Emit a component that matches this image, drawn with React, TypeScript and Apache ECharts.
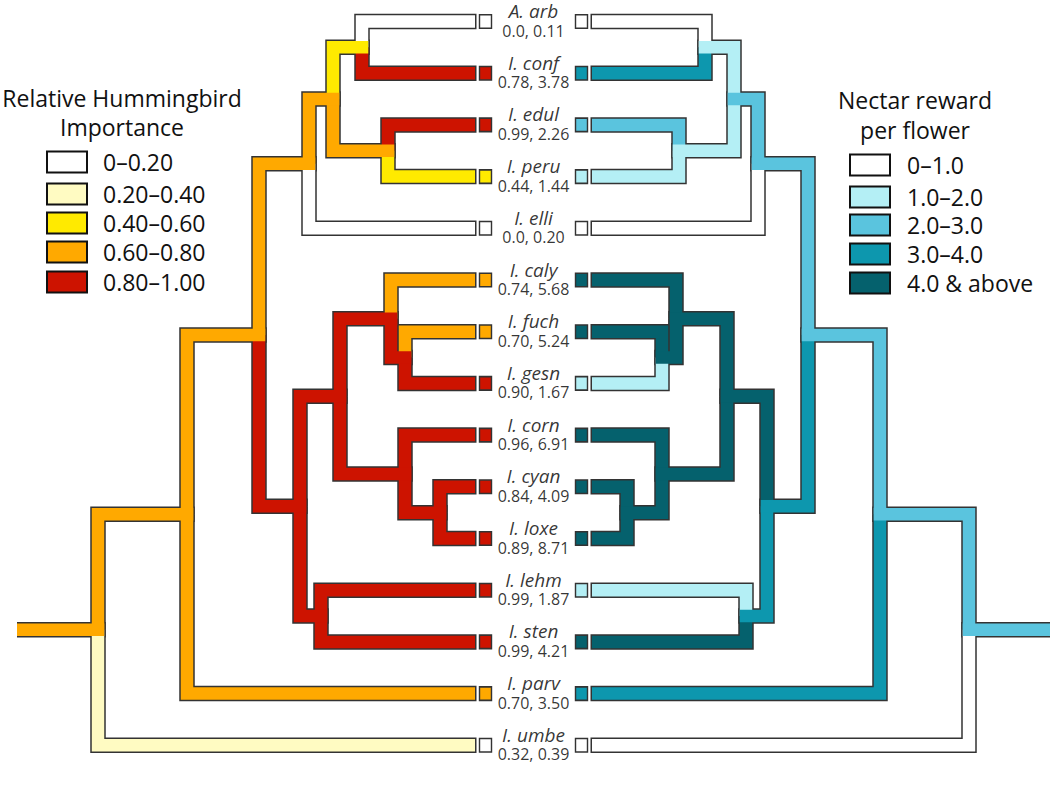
import React, { useEffect, useRef } from "react";
import * as echarts from "echarts";

// ---------------- data ----------------
const taxa = [
  "A. arb", "I. conf", "I. edul", "I. peru", "I. elli", "I. caly", "I. fuch", "I. gesn",
  "I. corn", "I. cyan", "I. loxe", "I. lehm", "I. sten", "I. parv", "I. umbe",
];
const hummingbirdImportance = [0.0, 0.78, 0.99, 0.44, 0.0, 0.74, 0.7, 0.9, 0.96, 0.84, 0.89, 0.99, 0.99, 0.7, 0.32];
const nectarReward = [0.11, 3.78, 2.26, 1.44, 0.2, 5.68, 5.24, 1.67, 6.91, 4.09, 8.71, 1.87, 4.21, 3.5, 0.39];

// internal nodes in post-order: id, children (upper, lower), node height (tips = 0)
const nodeIds = ["n13", "n12", "n11", "n3", "n9", "n7", "n10", "n8", "n6", "n5", "n4", "n2", "n1", "root"];
const nodeChildren = [
  ["A. arb", "I. conf"],
  ["I. edul", "I. peru"],
  ["n13", "n12"],
  ["n11", "I. elli"],
  ["I. fuch", "I. gesn"],
  ["I. caly", "n9"],
  ["I. cyan", "I. loxe"],
  ["I. corn", "n10"],
  ["n7", "n8"],
  ["I. lehm", "I. sten"],
  ["n6", "n5"],
  ["n3", "n4"],
  ["n2", "I. parv"],
  ["n1", "I. umbe"],
];
const nodeHeights = [1.13, 0.87, 1.42, 1.66, 0.7, 0.84, 0.35, 0.7, 1.35, 1.54, 1.75, 2.16, 2.88, 3.77];
const rootStubHeight = 4.58;

// reconstructed class of each branch (branch leading to tip / to node)
const hummingbirdTipBranchClass = [0, 4, 4, 2, 0, 3, 3, 4, 4, 4, 4, 4, 4, 3, 1];
const hummingbirdTipBoxClass = [0, 4, 4, 2, 0, 3, 3, 4, 4, 4, 4, 4, 4, 3, 0];
const hummingbirdNodeBranchClass = [2, 3, 3, 3, 4, 4, 4, 4, 4, 4, 4, 3, 3, 3];

const nectarTipBranchClass = [0, 3, 2, 1, 0, 4, 4, 1, 4, 4, 4, 1, 4, 3, 0];
const nectarTipBoxClass = [0, 3, 2, 1, 0, 4, 4, 1, 4, 4, 4, 1, 4, 3, 0];
const nectarNodeBranchClass = [1, 1, 2, 2, 4, 4, 4, 4, 4, 3, 3, 2, 2, 2];

const hummingbirdTitle = ["Relative Hummingbird", "Importance"];
const hummingbirdClassLabels = ["0–0.20", "0.20–0.40", "0.40–0.60", "0.60–0.80", "0.80–1.00"];
const nectarTitle = ["Nectar reward", "per flower"];
const nectarClassLabels = ["0–1.0", "1.0–2.0", "2.0–3.0", "3.0–4.0", "4.0 & above"];

// ---------------- styles / layout ----------------
const hummingbirdColors = ["#FFFFFF", "#FFFBC2", "#FFEA00", "#FFA900", "#CD1300"];
const nectarColors = ["#FFFFFF", "#B4EFF5", "#5AC4DE", "#0D97AE", "#05616D"];
const OUTLINE = "#333333";
const FONT = '"Open Sans", "Noto Sans", sans-serif';
const GAP = 0.585; // half width of central label column, axis units
const BOX_X = 0.48;
const OUTLINE_W = 15.5;
const FILL_W = 12.5;
const RIM = (OUTLINE_W - FILL_W) / 2;

// ---------------- tree layout ----------------
const tipIndex: Record<string, number> = {};
taxa.forEach((t, i) => (tipIndex[t] = i));
const yOf: Record<string, number> = {};
const hOf: Record<string, number> = {};
taxa.forEach((t, i) => {
  yOf[t] = i;
  hOf[t] = 0;
});
nodeIds.forEach((id, k) => {
  const [a, b] = nodeChildren[k];
  yOf[id] = (yOf[a] + yOf[b]) / 2;
  hOf[id] = nodeHeights[k];
});

function buildEdges(sign: number, tipClass: number[], nodeClass: number[]) {
  const edges: number[][] = [];
  nodeIds.forEach((id, k) => {
    const px = sign * (GAP + hOf[id]);
    const py = yOf[id];
    nodeChildren[k].forEach((c) => {
      const isTip = tipIndex[c] !== undefined;
      const cls = isTip ? tipClass[tipIndex[c]] : nodeClass[nodeIds.indexOf(c)];
      edges.push([px, py, sign * (GAP + hOf[c]), yOf[c], cls, isTip ? 1 : 0]);
    });
  });
  const r = "root";
  edges.push([sign * (GAP + rootStubHeight), yOf[r], sign * (GAP + hOf[r]), yOf[r], nodeClass[nodeIds.indexOf(r)], 0]);
  return edges;
}

function edgeRenderer(colors: string[], outline: boolean) {
  return (params: any, api: any) => {
    const px = api.value(0), py = api.value(1), cx = api.value(2), cy = api.value(3);
    const cls = api.value(4), isTip = api.value(5);
    const p0 = api.coord([px, py]);
    const p1 = api.coord([px, cy]);
    const p2 = api.coord([cx, cy]);
    const dir = Math.sign(p2[0] - p1[0]);
    const ext = isTip ? (outline ? RIM : 0) : (outline ? OUTLINE_W / 2 : FILL_W / 2);
    const pts: number[][] = [];
    if (Math.abs(p0[1] - p1[1]) > 0.01) pts.push(p0);
    pts.push(p1);
    pts.push([p2[0] + dir * ext, p2[1]]);
    return {
      type: "polyline",
      z2: params.dataIndex,
      silent: true,
      shape: { points: pts },
      style: {
        fill: "none",
        stroke: outline ? OUTLINE : colors[cls],
        lineWidth: outline ? OUTLINE_W : FILL_W,
        lineJoin: "miter",
        lineCap: "butt",
      },
    };
  };
}

function legendGraphics(title: string[], labels: string[], colors: string[], lay: any) {
  const els: any[] = [];
  title.forEach((t, i) => {
    els.push({
      type: "text",
      x: lay.titleX,
      y: lay.titleY[i],
      silent: true,
      style: {
        text: t, font: `23px ${FONT}`, fill: "#111",
        textAlign: "center", textVerticalAlign: "middle", align: "center", verticalAlign: "middle",
      },
    });
  });
  labels.forEach((t, i) => {
    els.push({
      type: "rect",
      silent: true,
      shape: { x: lay.boxX, y: lay.rows[i] - 10.5, width: 40, height: 21 },
      style: { fill: colors[i], stroke: "#111", lineWidth: 2 },
    });
    els.push({
      type: "text",
      x: lay.textX,
      y: lay.rows[i],
      silent: true,
      style: {
        text: t, font: `23px ${FONT}`, fill: "#111",
        textAlign: "left", textVerticalAlign: "middle", align: "left", verticalAlign: "middle",
      },
    });
  });
  return els;
}

const fmtH = (v: number) => (v === 0 ? "0.0" : v.toFixed(2));
const fmtN = (v: number) => v.toFixed(2);

function labelSeries(name: string, offsetY: number, textStyle: any, fmt: (i: number) => string) {
  return {
    type: "scatter",
    name,
    silent: true,
    z: 5,
    symbol: "circle",
    symbolSize: 1,
    itemStyle: { color: "rgba(0,0,0,0)" },
    data: taxa.map((t, i) => [0, i]),
    label: {
      show: true,
      position: "inside",
      offset: [0, offsetY],
      align: "center",
      verticalAlign: "middle",
      color: "#000",
      textBorderWidth: 0,
      textBorderColor: "transparent",
      fontFamily: FONT,
      ...textStyle,
      formatter: (p: any) => fmt(p.dataIndex),
    },
  };
}

export default function App() {
  const ref = useRef<HTMLDivElement>(null);
  useEffect(() => {
    document.body.style.margin = "0";
    if (!ref.current) return;
    const chart = echarts.init(ref.current, null, { renderer: "svg" });
    const leftEdges = buildEdges(-1, hummingbirdTipBranchClass, hummingbirdNodeBranchClass);
    const rightEdges = buildEdges(1, nectarTipBranchClass, nectarNodeBranchClass);

    const option: any = {
      animation: false,
      backgroundColor: "#ffffff",
      grid: { left: 0, right: 0, top: 0, bottom: 0 },
      xAxis: { type: "value", min: -5.335, max: 5.165, show: false },
      yAxis: { type: "value", inverse: true, min: -0.416, max: 15.135, show: false },
      graphic: [
        ...legendGraphics(hummingbirdTitle, hummingbirdClassLabels, hummingbirdColors, {
          titleX: 122, titleY: [98, 127], boxX: 47, textX: 103, rows: [162, 194, 223, 252, 282],
        }),
        ...legendGraphics(nectarTitle, nectarClassLabels, nectarColors, {
          titleX: 915, titleY: [100, 130], boxX: 850, textX: 907, rows: [165, 197, 225, 254, 283],
        }),
      ],
      series: [
        { type: "custom", name: "hb-outline", silent: true, z: 2, data: leftEdges, renderItem: edgeRenderer(hummingbirdColors, true) },
        { type: "custom", name: "hb-fill", silent: true, z: 3, data: leftEdges, renderItem: edgeRenderer(hummingbirdColors, false) },
        { type: "custom", name: "nr-outline", silent: true, z: 2, data: rightEdges, renderItem: edgeRenderer(nectarColors, true) },
        { type: "custom", name: "nr-fill", silent: true, z: 3, data: rightEdges, renderItem: edgeRenderer(nectarColors, false) },
        {
          type: "scatter", name: "hb-tips", silent: true, z: 4, symbol: "rect", symbolSize: [12, 13.5],
          itemStyle: { borderColor: OUTLINE, borderWidth: 1.5, opacity: 1 },
          data: taxa.map((t, i) => ({ value: [-BOX_X, i], itemStyle: { color: hummingbirdColors[hummingbirdTipBoxClass[i]] } })),
        },
        {
          type: "scatter", name: "nr-tips", silent: true, z: 4, symbol: "rect", symbolSize: [12, 13.5],
          itemStyle: { borderColor: OUTLINE, borderWidth: 1.5, opacity: 1 },
          data: taxa.map((t, i) => ({ value: [BOX_X, i], itemStyle: { color: nectarColors[nectarTipBoxClass[i]] } })),
        },
        labelSeries("names", -10.5, { fontSize: 19, lineHeight: 19, fontStyle: "italic" }, (i) => taxa[i]),
        labelSeries("values", 9, { fontSize: 16, lineHeight: 16 }, (i) => `${fmtH(hummingbirdImportance[i])}, ${fmtN(nectarReward[i])}`),
      ],
    };
    chart.setOption(option);
    return () => chart.dispose();
  }, []);
  return <div ref={ref} style={{ width: 1050, height: 804 }} />;
}
